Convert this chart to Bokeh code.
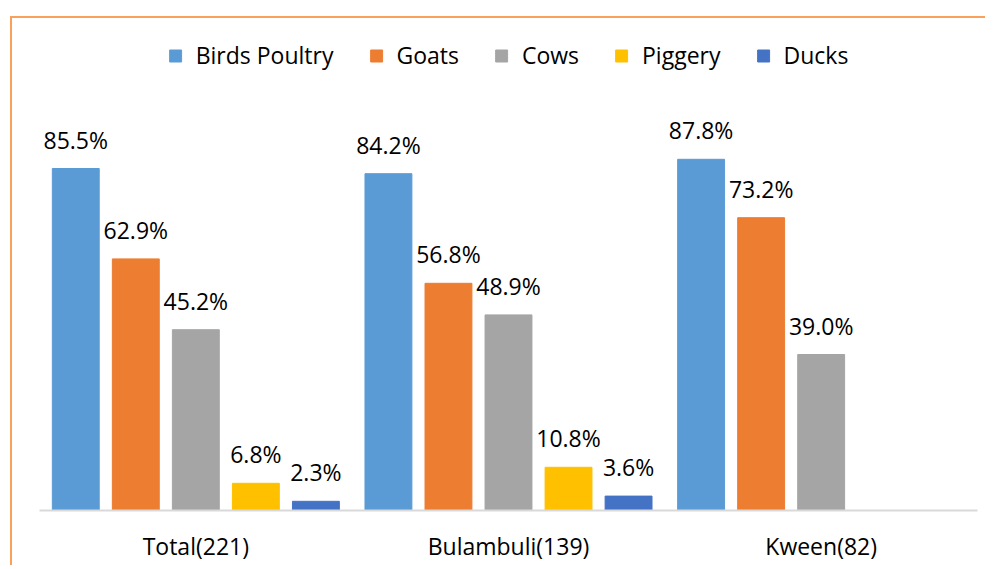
from bokeh.plotting import figure
from bokeh.models import ColumnDataSource, FactorRange, Legend, LegendItem
from bokeh.transform import dodge
from bokeh.core.properties import value
from bokeh.embed import file_html
from bokeh.resources import INLINE

categories = ["Total(221)", "Bulambuli(139)", "Kween(82)"]
series = ["Birds Poultry", "Goats", "Cows", "Piggery", "Ducks"]
birds_poultry = [85.5, 84.2, 87.8]
goats = [62.9, 56.8, 73.2]
cows = [45.2, 48.9, 39.0]
piggery = [6.8, 10.8, float("nan")]
ducks = [2.3, 3.6, float("nan")]
colors = ["#5B9BD5", "#ED7D31", "#A5A5A5", "#FFC000", "#4472C4"]

values = [birds_poultry, goats, cows, piggery, ducks]
offsets = [-0.384, -0.192, 0.0, 0.192, 0.384]

FONT = "Open Sans"

p = figure(
    x_range=FactorRange(factors=categories, range_padding=0),
    y_range=(0, 123),
    width=975, height=549,
    output_backend="svg", toolbar_location=None,
    min_border_left=27, min_border_right=10, min_border_top=0, min_border_bottom=57,
)
p.styles = {"border-top": "2px solid #F9A15A", "border-left": "2px solid #F9A15A",
            "margin-top": "16px", "margin-left": "10px"}
p.outline_line_color = None
p.xgrid.grid_line_color = None
p.ygrid.grid_line_color = None
p.yaxis.visible = False
p.xaxis.axis_line_color = "#D9D9D9"
p.xaxis.axis_line_width = 2
p.xaxis.major_tick_line_color = None
p.xaxis.minor_tick_line_color = None
p.xaxis.major_tick_out = 0
p.xaxis.major_tick_in = 0
p.xaxis.major_label_standoff = 19
p.xaxis.major_label_text_font = FONT
p.xaxis.major_label_text_font_size = "23px"
p.xaxis.major_label_text_color = "#000000"

items = []
for name, vals, col, off in zip(series, values, colors, offsets):
    labels = ["" if v != v else f"{v:.1f}%" for v in vals]
    src = ColumnDataSource(dict(x=categories, top=vals, label=labels))
    r = p.vbar(x=dodge("x", off, range=p.x_range), top="top", width=0.15, source=src,
               fill_color=col, line_color=col)
    p.text(x=dodge("x", off, range=p.x_range), y="top", text="label", source=src,
           text_align="center", text_baseline="alphabetic", y_offset=-29,
           text_font=value(FONT), text_font_size="23px", text_color="#000000")
    items.append(LegendItem(label=name, renderers=[r]))

legend = Legend(items=items, orientation="horizontal", location="top_center",
                glyph_width=15, glyph_height=15, label_standoff=13, spacing=35,
                padding=0, margin=21, border_line_color=None, background_fill_alpha=0,
                label_text_font=FONT, label_text_font_size="23px", label_text_color="#000000")
p.add_layout(legend)

open("out.html", "w").write(file_html(p, INLINE))
